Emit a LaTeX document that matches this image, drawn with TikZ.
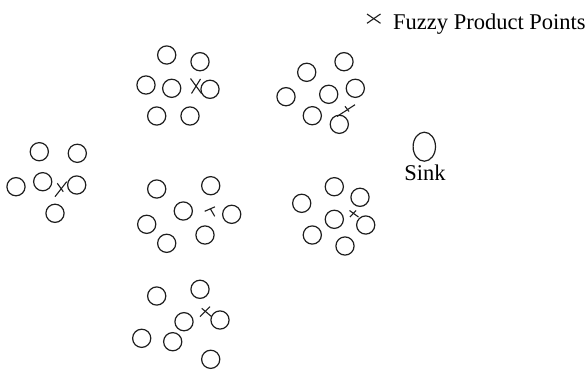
\documentclass[tikz,border=0pt]{standalone}
\usepackage{fontspec}
\setmainfont{Liberation Serif}
\usetikzlibrary{shapes.geometric}
\definecolor{ink}{HTML}{1E1E1E}
\tikzset{
  sensor/.style={circle, draw=ink, line width=1.2pt, minimum size=18.2pt, inner sep=0pt},
  fpt/.style={draw=ink, line width=1.1pt},
  lbl/.style={font=\fontsize{22.5}{27}\selectfont, text=black, inner sep=0pt}
}
\begin{document}
\begin{tikzpicture}[x=1pt, y=-1pt]
\useasboundingbox (0,0) rectangle (588,372);
\fill[white] (0,0) rectangle (588,372);

% cluster A (top middle)
\node[sensor] (a1) at (166.7,55) {};
\node[sensor] (a2) at (200,61.7) {};
\node[sensor] (a3) at (146,85) {};
\node[sensor] (a4) at (171.7,88.3) {};
\node[sensor] (a5) at (210,89.3) {};
\node[sensor] (a6) at (156.7,116) {};
\node[sensor] (a7) at (190,116) {};
\draw[fpt] (190.5,78.5) -- (201.5,93.5);
\draw[fpt] (191.5,93.5) -- (200.5,79);

% cluster B (top right)
\node[sensor] (b1) at (344,61.7) {};
\node[sensor] (b2) at (306.7,72.3) {};
\node[sensor] (b3) at (286,96.7) {};
\node[sensor] (b4) at (328.7,94.3) {};
\node[sensor] (b5) at (355.3,88.3) {};
\node[sensor] (b6) at (312.3,115.7) {};
\node[sensor] (b7) at (339.3,124.3) {};
\draw[fpt] (337,116.5) -- (355,104.7);
\draw[fpt] (345,106.3) -- (349,111.5);

% cluster C (left)
\node[sensor] (c1) at (39.3,151.7) {};
\node[sensor] (c2) at (77.3,153.3) {};
\node[sensor] (c3) at (16,186.7) {};
\node[sensor] (c4) at (42.7,181.7) {};
\node[sensor] (c5) at (76.7,185) {};
\node[sensor] (c6) at (55,213.3) {};
\draw[fpt] (55,196.7) -- (66.7,181.7);
\draw[fpt] (57.3,183.3) -- (63.3,191.7);

% cluster D (centre)
\node[sensor] (d1) at (156.7,189) {};
\node[sensor] (d2) at (210.7,185.7) {};
\node[sensor] (d3) at (183.3,211) {};
\node[sensor] (d4) at (231.7,214.3) {};
\node[sensor] (d5) at (146.7,224.3) {};
\node[sensor] (d6) at (166.7,243.3) {};
\node[sensor] (d7) at (205,235) {};
\draw[fpt] (204.7,211.3) -- (215,206.8);
\draw[fpt] (210.5,209) -- (214.7,216.3);

% cluster E (centre right)
\node[sensor] (e1) at (334.3,186.7) {};
\node[sensor] (e2) at (360,197.3) {};
\node[sensor] (e3) at (301.7,203.3) {};
\node[sensor] (e4) at (334.3,219.3) {};
\node[sensor] (e5) at (365.7,225) {};
\node[sensor] (e6) at (312.3,235) {};
\node[sensor] (e7) at (345,246) {};
\draw[fpt] (349.5,210.5) -- (358.5,217);
\draw[fpt] (350,217) -- (356,210.5);

% cluster F (bottom)
\node[sensor] (f1) at (156.7,296) {};
\node[sensor] (f2) at (200,289.3) {};
\node[sensor] (f3) at (184,321.7) {};
\node[sensor] (f4) at (220,320) {};
\node[sensor] (f5) at (141.7,338.3) {};
\node[sensor] (f6) at (172.7,341.7) {};
\node[sensor] (f7) at (210.7,359.3) {};
\draw[fpt] (200,316.7) -- (210,306.7);
\draw[fpt] (201.7,308.3) -- (211.7,316.7);

% sink
\node[ellipse, draw=ink, line width=1.2pt, minimum width=22.4pt, minimum height=29pt, inner sep=0pt] (sink) at (424.3,146.7) {};
\node[lbl, anchor=base] (sinklbl) at (425,180) {Sink};

% legend
\draw[fpt] (367,14) -- (380.5,23.3);
\draw[fpt] (367,23.3) -- (380.5,14);
\node[lbl, anchor=base west] (legend) at (393,29.5) {Fuzzy Product Points};
\end{tikzpicture}
\end{document}
